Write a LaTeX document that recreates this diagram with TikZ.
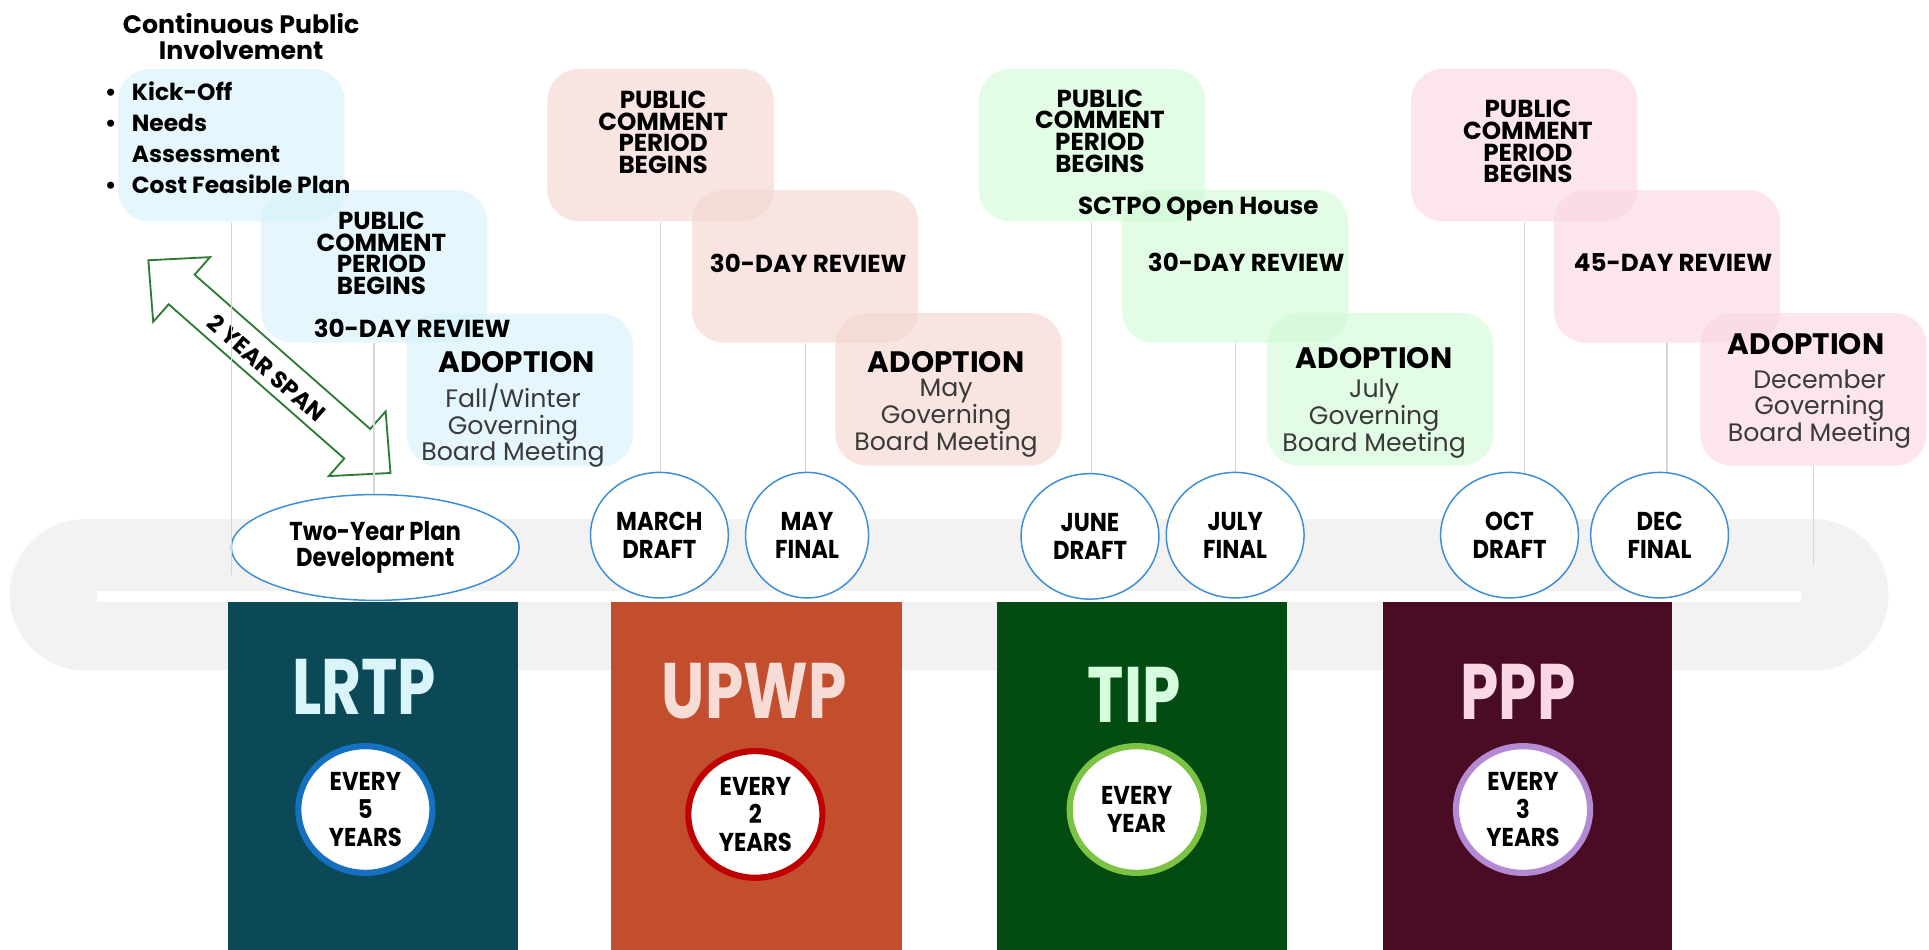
\documentclass[tikz,border=0pt]{standalone}
\usepackage{fontspec}
\setmainfont{Poppins}
\newfontfamily\narrowfont[FakeStretch=0.88]{Poppins}
\newfontfamily\bannerfont[FakeStretch=0.78]{Poppins}
\usetikzlibrary{shapes.geometric}

\definecolor{bandgray}{HTML}{F2F2F2}
\definecolor{tickgray}{HTML}{D6D6D6}
\definecolor{stageblue}{HTML}{3D8ED8}
\definecolor{spangreen}{HTML}{2E7B36}
\definecolor{meetgray}{HTML}{3A3A3A}
\definecolor{bluepanel}{HTML}{D5F2FC}
\definecolor{redpanel}{HTML}{F4D5CD}
\definecolor{greenpanel}{HTML}{D0FAD5}
\definecolor{pinkpanel}{HTML}{FAD5E3}
\definecolor{lrtpbar}{HTML}{0B4956}
\definecolor{lrtptext}{HTML}{D9F5FA}
\definecolor{lrtpring}{HTML}{1570C2}
\definecolor{upwpbar}{HTML}{C24E2D}
\definecolor{upwptext}{HTML}{F6DCD5}
\definecolor{upwpring}{HTML}{C00000}
\definecolor{tipbar}{HTML}{024C11}
\definecolor{tiptext}{HTML}{D5FCDC}
\definecolor{tipring}{HTML}{7CC243}
\definecolor{pppbar}{HTML}{4A0C25}
\definecolor{ppptext}{HTML}{F9D7E5}
\definecolor{pppring}{HTML}{B38AD3}

\begin{document}
\begin{tikzpicture}[x=1pt,y=-1pt,
	panel/.style={rectangle, rounded corners=26pt, minimum width=184pt, minimum height=124pt, inner sep=0pt, fill opacity=0.6},
	opening/.style={inner sep=0pt, align=center, font=\bfseries\fontsize{20}{17.7}\selectfont},
	heading/.style={inner sep=0pt, font=\bfseries\fontsize{20}{20}\selectfont},
	adopt/.style={inner sep=0pt, font=\bfseries\fontsize{24}{24}\selectfont},
	meet/.style={inner sep=0pt, align=center, text=meetgray, font=\fontsize{20.5}{21.8}\selectfont},
	stage/.style={ellipse, draw=stageblue, line width=1.2pt, fill=white, inner sep=0pt, minimum width=112pt, minimum height=102pt, align=center, font=\narrowfont\bfseries\fontsize{21}{23}\selectfont},
	ringnode/.style={ellipse, fill=white, line width=5pt, minimum width=109pt, minimum height=103pt, inner sep=0pt, align=center, font=\narrowfont\bfseries\fontsize{21}{22.5}\selectfont},
	banner/.style={inner sep=0pt, font=\bannerfont\bfseries\fontsize{64}{64}\selectfont},
	riser/.style={draw=tickgray, line width=1pt}
	]
	\useasboundingbox (0,0) rectangle (1568,772);
	\fill[white] (0,0) rectangle (1568,772);
	\fill[bandgray, rounded corners=61pt] (8,422) rectangle (1535,545);
	\fill[white] (79,480) rectangle (1464,489);
	
	\node[panel, fill=bluepanel] (lrtpA) at (188,118) {};
	\node[panel, fill=bluepanel] (lrtpB) at (304,216.5) {};
	\node[panel, fill=bluepanel] (lrtpC) at (422.5,317) {};
	\node[panel, fill=redpanel] (upwpA) at (537,118) {};
	\node[panel, fill=redpanel] (upwpB) at (654.5,216.5) {};
	\node[panel, fill=redpanel] (upwpC) at (771,316.5) {};
	\node[panel, fill=greenpanel] (tipA) at (887.5,118) {};
	\node[panel, fill=greenpanel] (tipB) at (1004,216.5) {};
	\node[panel, fill=greenpanel] (tipC) at (1122,316.5) {};
	\node[panel, fill=pinkpanel] (pppA) at (1239,118) {};
	\node[panel, fill=pinkpanel] (pppB) at (1355,216.5) {};
	\node[panel, fill=pinkpanel] (pppC) at (1474,316.5) {};
	
	\node[inner sep=0pt, align=center, font=\bfseries\fontsize{20.5}{21}\selectfont] (involve) at (196,30) {Continuous Public\\Involvement};
	\node[anchor=west, inner sep=0pt, align=left, font=\bfseries\fontsize{19}{25}\selectfont] (steps) at (85,112) {\makebox[22pt][l]{\textbullet}Kick-Off\\\makebox[22pt][l]{\textbullet}Needs\\\makebox[22pt][l]{}Assessment\\\makebox[22pt][l]{\textbullet}Cost Feasible Plan};
	\node[opening] (lrtpopen) at (310,206) {PUBLIC\\COMMENT\\PERIOD\\BEGINS};
	\node[heading] (lrtpreview) at (335,267) {30-DAY REVIEW};
	\node[adopt] (lrtpadopt) at (420,294) {ADOPTION};
	\node[meet] (lrtpmeet) at (417,346) {Fall/Winter\\Governing\\Board Meeting};
	
	\node[opening] (upwpopen) at (539,107.5) {PUBLIC\\COMMENT\\PERIOD\\BEGINS};
	\node[heading] (upwpreview) at (657,214) {30-DAY REVIEW};
	\node[adopt] (upwpadopt) at (769,294) {ADOPTION};
	\node[meet] (upwpmeet) at (769,340) {May\\Governing\\Board Meeting};
	
	\node[opening] (tipopen) at (894,106.5) {PUBLIC\\COMMENT\\PERIOD\\BEGINS};
	\node[heading] (sctpo) at (974,169.5) {SCTPO Open House};
	\node[heading] (tipreview) at (1013,213) {30-DAY REVIEW};
	\node[adopt] (tipadopt) at (1117,291) {ADOPTION};
	\node[meet] (tipmeet) at (1117,340) {July\\Governing\\Board Meeting};
	
	\node[opening] (pppopen) at (1242,115) {PUBLIC\\COMMENT\\PERIOD\\BEGINS};
	\node[heading] (pppreview) at (1360,213) {45-DAY REVIEW};
	\node[adopt] (pppadopt) at (1468,280) {ADOPTION};
	\node[meet] (pppmeet) at (1479,332.5) {December\\Governing\\Board Meeting};
	
	\begin{scope}[shift={(219,298)}, rotate=-41.3]
		\draw[spangreen, line width=1.5pt, fill=white] (-131,0) -- (-95,-35) -- (-95,-16) -- (95,-16) -- (95,-35) -- (131,0) -- (95,35) -- (95,16) -- (-95,16) -- (-95,35) -- cycle;
	\end{scope}
	\node[heading, rotate=-41.3, font=\bfseries\fontsize{19}{19}\selectfont] (span) at (217,299) {2 YEAR SPAN};
	
	\node[stage, minimum width=234pt, minimum height=86pt, font=\narrowfont\bfseries\fontsize{21}{21}\selectfont] (twoyr) at (305,445) {Two-Year Plan\\Development};
	\coordinate (lrtpend) at (188,467);
	\draw[riser] (lrtpA.south) -- (lrtpend);
	\draw[riser] (lrtpB.south) -- (lrtpB.south |- twoyr.north);
	\draw[riser] (upwpA.south) -- (upwpA.south |- 0,435);
	\draw[riser] (upwpB.south) -- (upwpB.south |- 0,435);
	\draw[riser] (tipA.south) -- (tipA.south |- 0,435);
	\draw[riser] (tipB.south) -- (tipB.south |- 0,435);
	\draw[riser] (pppA.south) -- (pppA.south |- 0,435);
	\draw[riser] (pppB.south) -- (pppB.south |- 0,435);
	\coordinate (pppend) at (1475,460);
	\draw[riser] (pppC.south) -- (pppC.south |- pppend);
	
	\node[stage] (march) at (536,435) {MARCH\\DRAFT};
	\node[stage, minimum width=100pt] (may) at (656,435) {MAY\\FINAL};
	\node[stage] (june) at (886,436) {JUNE\\DRAFT};
	\node[stage] (july) at (1004,435) {JULY\\FINAL};
	\node[stage] (oct) at (1227,435) {OCT\\DRAFT};
	\node[stage] (dec) at (1349,435) {DEC\\FINAL};
	
	\fill[lrtpbar] (185,489) rectangle (421,772);
	\fill[upwpbar] (497,489) rectangle (733,772);
	\fill[tipbar] (810,489) rectangle (1046,772);
	\fill[pppbar] (1124,489) rectangle (1359,772);
	
	\node[banner, text=lrtptext] (lrtp) at (296,558) {LRTP};
	\node[banner, text=upwptext] (upwp) at (613,562) {UPWP};
	\node[banner, text=tiptext] (tip) at (922,565) {TIP};
	\node[banner, text=ppptext] (ppp) at (1234,562) {PPP};
	
	\node[ringnode, draw=lrtpring] (lrtpring) at (297,658) {EVERY\\5\\YEARS};
	\node[ringnode, draw=upwpring] (upwpring) at (614,662) {EVERY\\2\\YEARS};
	\node[ringnode, draw=tipring] (tipring) at (924,658) {EVERY\\YEAR};
	\node[ringnode, draw=pppring] (pppring) at (1238,658) {EVERY\\3\\YEARS};
\end{tikzpicture}
\end{document}
